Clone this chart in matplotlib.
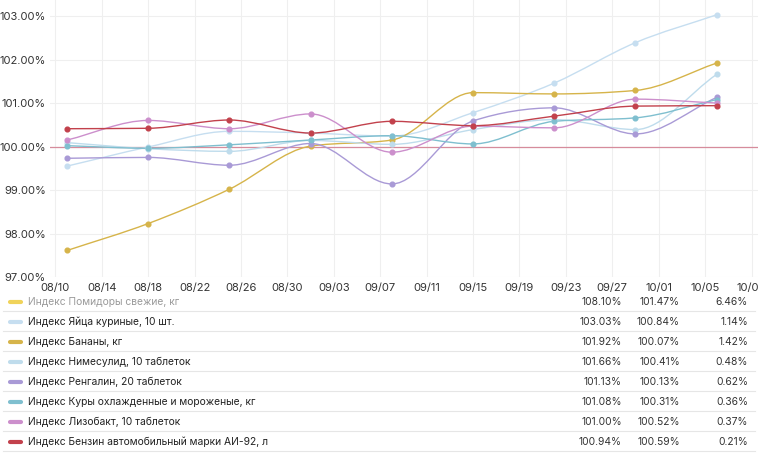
import numpy as np
import matplotlib
matplotlib.use('Agg')
import matplotlib.pyplot as plt
import matplotlib.dates as mdates
from matplotlib.path import Path
from matplotlib.patches import PathPatch
from matplotlib.lines import Line2D
from datetime import datetime

plt.rcParams['font.family'] = ['Inter', 'DejaVu Sans']

# weekly dates
dates = ['2024-08-11', '2024-08-18', '2024-08-25', '2024-09-01', '2024-09-08',
         '2024-09-15', '2024-09-22', '2024-09-29', '2024-10-06']

names = ['Индекс Помидоры свежие, кг',
         'Индекс Яйца куриные, 10 шт.',
         'Индекс Бананы, кг',
         'Индекс Нимесулид, 10 таблеток',
         'Индекс Ренгалин, 20 таблеток',
         'Индекс Куры охлажденные и мороженые, кг',
         'Индекс Лизобакт, 10 таблеток',
         'Индекс Бензин автомобильный марки АИ-92, л']
colors = ['#f0d35a', '#c6def0', '#d6b44a', '#bfdcec', '#a99ad6', '#7fbfcf', '#cc8fcc', '#c2414c']
visible = [False, True, True, True, True, True, True, True]

col_last = ['108.10%', '103.03%', '101.92%', '101.66%', '101.13%', '101.08%', '101.00%', '100.94%']
col_avg = ['101.47%', '100.84%', '100.07%', '100.41%', '100.13%', '100.31%', '100.52%', '100.59%']
col_diff = ['6.46%', '1.14%', '1.42%', '0.48%', '0.62%', '0.36%', '0.37%', '0.21%']

tomatoes = [np.nan] * 9  # hidden series
eggs = [99.55, 99.99, 100.35, 100.31, 100.24, 100.78, 101.46, 102.39, 103.03]
bananas = [97.61, 98.23, 99.02, 100.01, 100.15, 101.24, 101.21, 101.29, 101.92]
nimesulid = [100.09, 99.95, 99.89, 100.14, 100.05, 100.39, 100.62, 100.39, 101.66]
rengalin = [99.73, 99.75, 99.57, 100.07, 99.14, 100.59, 100.89, 100.29, 101.13]
kury = [100.02, 99.96, 100.04, 100.15, 100.25, 100.06, 100.58, 100.66, 101.08]
lizobakt = [100.15, 100.60, 100.41, 100.75, 99.87, 100.47, 100.43, 101.09, 101.00]
benzin = [100.41, 100.42, 100.61, 100.31, 100.58, 100.48, 100.70, 100.93, 100.94]
series = [tomatoes, eggs, bananas, nimesulid, rengalin, kury, lizobakt, benzin]


def monotone_path(x, y):
    # monotone cubic (like d3 curveMonotoneX) as bezier segments
    x = np.asarray(x, float)
    y = np.asarray(y, float)
    n = len(x)
    h = np.diff(x)
    s = np.diff(y) / h
    t = np.zeros(n)
    for i in range(1, n - 1):
        if s[i - 1] * s[i] <= 0:
            t[i] = 0
        else:
            p = (s[i - 1] * h[i] + s[i] * h[i - 1]) / (h[i - 1] + h[i])
            t[i] = (np.sign(s[i - 1]) + np.sign(s[i])) * min(abs(s[i - 1]), abs(s[i]), 0.5 * abs(p))
    t[0] = s[0]
    t[-1] = s[-1]
    verts = [(x[0], y[0])]
    codes = [Path.MOVETO]
    for i in range(n - 1):
        dx = h[i] / 3
        verts += [(x[i] + dx, y[i] + dx * t[i]), (x[i + 1] - dx, y[i + 1] - dx * t[i + 1]), (x[i + 1], y[i + 1])]
        codes += [Path.CURVE4] * 3
    return Path(verts, codes)


W, H = 758, 454
fig = plt.figure(figsize=(W / 100, H / 100), dpi=100)
ax = fig.add_axes([50 / W, 1 - 277 / H, 1 - 50 / W, 277 / H])

xd = mdates.date2num([datetime.strptime(d, '%Y-%m-%d') for d in dates])

ax.axhline(100, color='#d68c9c', lw=0.9, zorder=1)
for i in range(len(series) - 1, -1, -1):
    if not visible[i]:
        continue
    ax.add_patch(PathPatch(monotone_path(xd, series[i]), fill=False, edgecolor=colors[i], lw=1.0, zorder=2 + i * 0.1))
    ax.plot(xd, series[i], 'o', color=colors[i], markersize=3.4, zorder=3 + i * 0.1)

start = mdates.date2num(datetime(2024, 8, 10))
ax.set_xlim(start - 0.47, start + 60.56)
ax.set_ylim(97.0, 103.37)
ax.set_xticks([start + 4 * k for k in range(16)])
ax.xaxis.set_major_formatter(mdates.DateFormatter('%m/%d'))
ax.set_yticks(np.arange(97, 103.5, 1))
ax.yaxis.set_major_formatter(matplotlib.ticker.FuncFormatter(lambda v, p: '%.2f%%' % v))
ax.tick_params(length=0, labelsize=8, colors='#333333', pad=3)
ax.tick_params(axis='x', pad=4)
for sp in ax.spines.values():
    sp.set_visible(False)
ax.grid(True, color='#efefef', lw=0.8)
ax.set_axisbelow(True)

# legend table
for r in range(len(names)):
    yc = 1 - (302 + 20 * r) / H
    tcol = '#9a9a9a' if not visible[r] else '#222222'
    fig.add_artist(Line2D([10 / W, 21 / W], [yc, yc], color=colors[r], lw=3, solid_capstyle='round'))
    fig.text(28 / W, yc, names[r], fontsize=7.4, color=tcol, va='center', ha='left')
    fig.text(622 / W, yc, col_last[r], fontsize=7.4, color='#333333', va='center', ha='right')
    fig.text(680 / W, yc, col_avg[r], fontsize=7.4, color='#333333', va='center', ha='right')
    fig.text(748 / W, yc, col_diff[r], fontsize=7.4, color='#333333', va='center', ha='right')
    ys = 1 - (311 + 20 * r) / H
    fig.add_artist(Line2D([3 / W, 755 / W], [ys, ys], color='#e6e6e6', lw=0.8))

fig.savefig('out.png', dpi=100)
